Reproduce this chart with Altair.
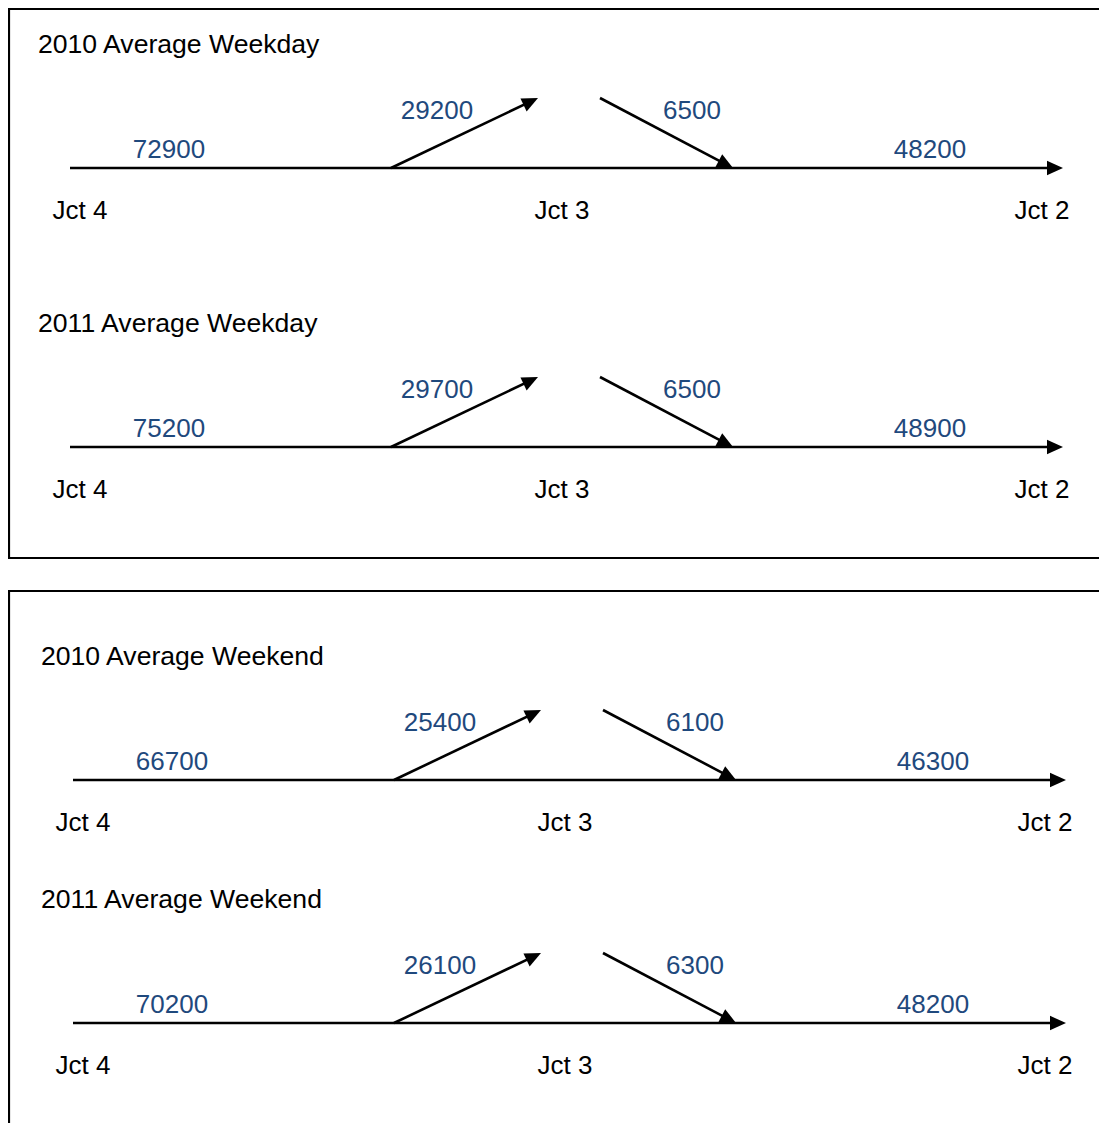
import math
import altair as alt
import pandas as pd

# ---- data ----
titles = ["2010 Average Weekday", "2011 Average Weekday",
          "2010 Average Weekend", "2011 Average Weekend"]
mainline_in = [72900, 75200, 66700, 70200]    # Jct 4 -> Jct 3
off_slip = [29200, 29700, 25400, 26100]       # leaving at Jct 3
on_slip = [6500, 6500, 6100, 6300]            # joining at Jct 3
mainline_out = [48200, 48900, 46300, 48200]   # Jct 3 -> Jct 2
junctions = ["Jct 4", "Jct 3", "Jct 2"]

# ---- layout (pixel units of the diagram) ----
W, H = 1091, 1115
line_y = [160, 439, 772, 1015]
shift_x = [0, 0, 3, 3]
boxes = [(1, 1, 1130, 550), (1, 583, 1130, 1140)]
VALUE_COLOR = "#1F497D"
FONT = "Liberation Sans"
FS = 26
FS_TITLE = 26.6

texts, segs, heads = [], [], []


def arrow_angle(x1, y1, x2, y2):
    return math.degrees(math.atan2(x2 - x1, -(y2 - y1))) % 360


for i in range(4):
    ly, sx = line_y[i], shift_x[i]
    texts.append(dict(x=30 + sx, y=ly - 123, t=titles[i], c="black", a="left", s=FS_TITLE))
    texts.append(dict(x=161 + sx, y=ly - 18, t=str(mainline_in[i]), c=VALUE_COLOR, a="center", s=FS))
    texts.append(dict(x=922 + sx, y=ly - 18, t=str(mainline_out[i]), c=VALUE_COLOR, a="center", s=FS))
    texts.append(dict(x=429 + sx, y=ly - 57, t=str(off_slip[i]), c=VALUE_COLOR, a="center", s=FS))
    texts.append(dict(x=684 + sx, y=ly - 57, t=str(on_slip[i]), c=VALUE_COLOR, a="center", s=FS))
    for jx, name in zip([72, 554, 1034], junctions):
        texts.append(dict(x=jx + sx, y=ly + 43, t=name, c="black", a="center", s=FS))

    x1, y1, x2, y2 = 62 + sx, ly, 1055 + sx, ly
    for (a, b, c, d) in [(x1, y1, x2, y2),
                         (383 + sx, ly, 530 + sx, ly - 70),
                         (592 + sx, ly - 70, 725 + sx, ly)]:
        L = math.hypot(c - a, d - b)
        ex, ey = c - (c - a) / L * 9, d - (d - b) / L * 9
        segs.append(dict(x=a, y=b, x2=ex, y2=ey))
        heads.append(dict(x=c, y=d, ang=arrow_angle(a, b, c, d)))

tdf = pd.DataFrame(texts)
sdf = pd.DataFrame(segs)
hdf = pd.DataFrame(heads)
bdf = pd.DataFrame([dict(x=b[0], y=b[1], x2=b[2], y2=b[3]) for b in boxes])

xs = alt.Scale(domain=[0, W], range=[0, W], nice=False, zero=False)
ys = alt.Scale(domain=[0, H], range=[0, H], nice=False, zero=False)
X = lambda f: alt.X(f, type="quantitative", scale=xs, axis=None)
Y = lambda f: alt.Y(f, type="quantitative", scale=ys, axis=None)

box_layer = alt.Chart(bdf).mark_rect(fill=None, stroke="black", strokeWidth=2.2).encode(
    x=X("x"), y=Y("y"), x2="x2", y2="y2")

seg_layer = alt.Chart(sdf).mark_rule(color="black", strokeWidth=2.6).encode(
    x=X("x"), y=Y("y"), x2="x2", y2="y2")

head_layer = alt.Chart(hdf).mark_point(
    shape="M0,0 L0.9,2 L-0.9,2 Z", filled=True, color="black", opacity=1,
    size=256, strokeWidth=0).encode(
    x=X("x"), y=Y("y"), angle=alt.Angle("ang:Q", scale=None))

text_layers = []
for align in ["left", "center"]:
    sub = tdf[tdf["a"] == align]
    text_layers.append(
        alt.Chart(sub).mark_text(align=align, baseline="middle", font=FONT).encode(
            x=X("x"), y=Y("y"), text="t:N",
            size=alt.Size("s:Q", scale=None),
            color=alt.Color("c:N", scale=None)))

chart = alt.layer(box_layer, seg_layer, head_layer, *text_layers).properties(
    width=W, height=H, padding=0, autosize=alt.AutoSizeParams(type="none"),
    background="white").configure_view(stroke=None)

chart.save("out.html", embed_options={"renderer": "svg", "actions": False})
